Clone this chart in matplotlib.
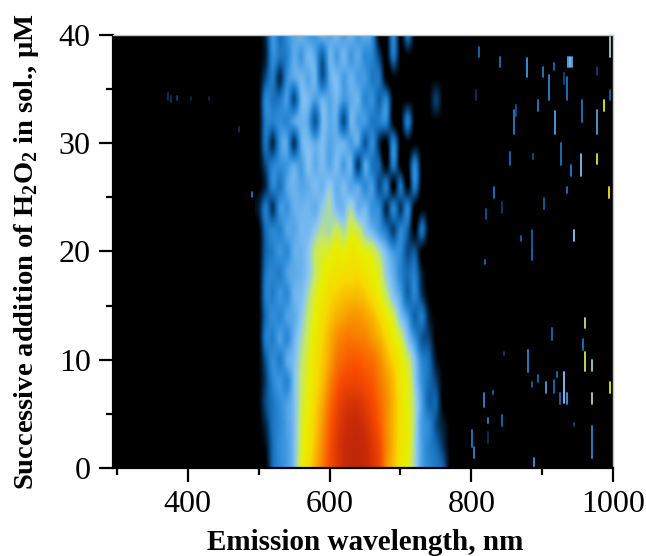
import numpy as np
import matplotlib
matplotlib.use("Agg")
import matplotlib.pyplot as plt
from matplotlib.colors import LinearSegmentedColormap

plt.rcParams['font.family'] = ['Liberation Serif', 'DejaVu Serif']
plt.rcParams['mathtext.fontset'] = 'custom'
plt.rcParams['mathtext.rm'] = 'Liberation Serif'
plt.rcParams['mathtext.bf'] = 'Liberation Serif:bold'

# intensity, 0-100, rows run top (40 uM) to bottom (0 uM)
wavelengths = [500, 510, 520, 530, 540, 550, 560, 570, 580, 590, 600, 610, 620, 630, 640,
               650, 660, 670, 680, 690, 700, 710, 720, 730, 740, 750, 760, 770, 780]
additions = [40, 38, 36, 34, 32, 30, 28, 26, 24, 22, 20, 18, 16, 14, 12, 10, 8, 6, 4, 2, 0]
c40 = [0, 8, 30, 20, 28, 33, 36, 31, 30, 36, 33, 37, 31, 36, 30, 34, 28, 0, 0, 26, 0, 22, 0, 0, 0, 0, 0, 0, 0]
c38 = [0, 6, 28, 22, 25, 34, 30, 37, 33, 18, 36, 31, 37, 30, 34, 27, 26, 12, 0, 22, 0, 0, 0, 0, 0, 0, 0, 0, 0]
c36 = [0, 14, 24, 8, 28, 33, 37, 33, 36, 16, 34, 38, 31, 36, 31, 31, 23, 22, 0, 0, 0, 0, 0, 0, 0, 0, 0, 0, 0]
c34 = [0, 26, 22, 23, 31, 14, 36, 37, 31, 36, 33, 37, 30, 34, 36, 26, 29, 18, 26, 0, 0, 0, 0, 0, 0, 12, 0, 0, 0]
c32 = [0, 24, 25, 28, 26, 33, 36, 33, 16, 37, 34, 34, 14, 36, 31, 31, 23, 24, 26, 0, 0, 24, 0, 0, 0, 0, 0, 0, 0]
c30 = [0, 22, 8, 29, 33, 10, 34, 38, 34, 38, 33, 36, 36, 31, 34, 16, 28, 8, 0, 26, 0, 0, 0, 0, 0, 0, 0, 0, 0]
c28 = [0, 14, 25, 28, 30, 34, 31, 39, 34, 38, 33, 38, 31, 36, 10, 33, 22, 18, 0, 24, 0, 0, 26, 0, 0, 0, 0, 0, 0]
c26 = [0, 8, 26, 22, 33, 36, 33, 35, 38, 36, 41, 35, 38, 33, 34, 27, 31, 14, 24, 0, 22, 0, 24, 0, 0, 0, 0, 0, 0]
c24 = [6, 24, 10, 30, 29, 35, 36, 37, 35, 41, 44, 38, 37, 44, 35, 37, 29, 27, 8, 26, 10, 26, 0, 0, 0, 0, 0, 0, 0]
c22 = [0, 20, 26, 25, 33, 33, 37, 37, 41, 45, 44, 48, 44, 50, 48, 41, 36, 30, 22, 12, 26, 18, 0, 22, 0, 0, 0, 0, 0]
c20 = [0, 18, 24, 30, 27, 35, 36, 40, 47, 50, 51, 54, 52, 56, 54, 52, 50, 44, 37, 30, 27, 14, 16, 0, 0, 0, 0, 0, 0]
c18 = [0, 22, 26, 24, 32, 34, 36, 40, 47, 52, 55, 57, 58, 58, 59, 56, 54, 50, 41, 35, 26, 20, 24, 6, 0, 0, 0, 0, 0]
c16 = [0, 24, 24, 30, 27, 36, 38, 44, 51, 55, 59, 61, 63, 64, 64, 62, 58, 53, 47, 39, 32, 18, 26, 10, 0, 0, 0, 0, 0]
c14 = [0, 20, 28, 26, 32, 34, 40, 47, 53, 58, 62, 66, 68, 70, 70, 68, 65, 60, 54, 49, 39, 31, 18, 24, 6, 0, 0, 0, 0]
c12 = [0, 24, 24, 32, 27, 36, 43, 49, 55, 60, 66, 71, 74, 75, 74, 73, 70, 66, 60, 54, 49, 39, 29, 16, 12, 0, 0, 0, 0]
c10 = [0, 16, 28, 24, 34, 38, 46, 51, 57, 62, 68, 75, 78, 80, 80, 78, 76, 72, 66, 60, 54, 48, 39, 26, 20, 4, 0, 0, 0]
c8 = [0, 12, 26, 30, 26, 38, 47, 52, 58, 64, 72, 79, 83, 84, 84, 82, 80, 75, 70, 64, 56, 52, 41, 29, 20, 12, 0, 0, 0]
c6 = [0, 14, 22, 28, 32, 38, 48, 53, 60, 67, 76, 83, 88, 90, 90, 87, 83, 78, 72, 65, 57, 52, 44, 32, 18, 18, 0, 0, 0]
c4 = [0, 8, 22, 27, 32, 38, 49, 55, 62, 70, 79, 86, 91, 94, 94, 91, 86, 80, 72, 65, 57, 53, 44, 31, 27, 14, 6, 0, 0]
c2 = [0, 3, 20, 28, 31, 38, 50, 56, 64, 72, 81, 88, 93, 96, 97, 94, 89, 83, 73, 65, 57, 53, 43, 32, 25, 20, 10, 0, 0]
c0 = [0, 0, 20, 27, 31, 38, 52, 58, 66, 74, 82, 88, 93, 96, 97, 95, 90, 84, 72, 64, 56, 52, 43, 32, 27, 23, 18, 0, 0]

# noise streaks outside the band: wavelength, low and high concentration, intensity
speck_wl = [811, 841, 879, 901, 910, 917, 936, 939, 942, 935, 931, 977, 996, 807, 996, 987, 894, 956,
            860, 918, 977, 863, 927, 955, 977, 941, 855, 887, 832, 935, 994, 903, 821, 843, 886, 945,
            870, 886, 819, 961, 914, 958, 961, 880, 971, 846, 921, 894, 885, 905, 917, 931, 935, 925,
            996, 971, 818, 831, 843, 824, 945, 801, 804, 824, 971, 889,
            472, 490, 372, 376, 385, 405, 430]
speck_lo = [38.0, 37.0, 36.1, 36.1, 34.0, 36.8, 37.0, 37.0, 37.0, 34.0, 35.5, 36.3, 38.0, 34.0, 34.0, 33.0, 33.0, 32.0,
            30.9, 30.9, 30.9, 32.5, 28.0, 27.0, 28.1, 27.0, 28.0, 28.5, 24.9, 25.4, 24.9, 23.9, 23.0, 23.6, 20.1, 21.0,
            21.0, 19.2, 18.8, 12.9, 11.8, 10.9, 9.0, 8.9, 9.0, 10.4, 8.4, 7.9, 7.5, 6.9, 6.9, 6.0, 5.9, 5.9,
            6.9, 5.9, 5.6, 6.8, 3.9, 4.2, 3.9, 1.9, 0.9, 2.3, 0.9, 0.1,
            31.0, 25.0, 34.0, 33.8, 34.0, 34.0, 34.0]
speck_hi = [38.9, 38.0, 37.9, 37.0, 36.3, 37.4, 38.0, 38.0, 38.0, 36.1, 36.5, 37.0, 39.8, 34.9, 34.9, 34.0, 34.0, 34.0,
            33.1, 33.0, 33.1, 33.5, 30.0, 29.0, 29.0, 28.0, 29.2, 29.0, 26.0, 26.0, 26.0, 24.9, 23.9, 24.6, 22.0, 22.0,
            21.4, 20.1, 19.2, 13.9, 12.9, 11.9, 10.7, 10.9, 10.0, 10.7, 8.9, 8.6, 7.9, 7.9, 8.1, 8.9, 6.9, 6.9,
            7.9, 6.9, 6.9, 7.1, 4.9, 4.6, 4.2, 3.5, 1.9, 3.3, 3.9, 0.9,
            31.5, 25.5, 34.6, 34.4, 34.4, 34.3, 34.3]
speck_val = [20, 22, 30, 24, 26, 20, 34, 40, 34, 22, 14, 12, 42, 10, 18, 52, 24, 22,
             24, 32, 32, 16, 22, 38, 48, 24, 20, 16, 22, 22, 55, 18, 16, 12, 18, 40,
             18, 20, 20, 46, 20, 22, 48, 26, 42, 12, 22, 20, 18, 32, 20, 40, 30, 20,
             52, 44, 26, 20, 20, 26, 14, 24, 26, 10, 26, 30,
             10, 22, 10, 10, 12, 8, 8]

level_pos = [0, 0.08, 0.18, 0.28, 0.40, 0.47, 0.53, 0.60, 0.70, 0.82, 0.93, 1.0]
level_col = ['#000000', '#05294a', '#0f64ac', '#2f8edb', '#8ac6f6', '#c4e86a', '#e8f000',
             '#f8d800', '#f89800', '#f84c00', '#cc2c08', '#b82408']
cmap = LinearSegmentedColormap.from_list('fluor', list(zip(level_pos, level_col)))

intensity = np.array([c40, c38, c36, c34, c32, c30, c28, c26, c24, c22, c20,
                      c18, c16, c14, c12, c10, c8, c6, c4, c2, c0])

fig = plt.figure(figsize=(6.46, 5.56), dpi=100)
ax = fig.add_axes([113 / 646, (556 - 468) / 556, 500 / 646, 433 / 556])
ax.set_facecolor('black')
ax.imshow(intensity, cmap=cmap, vmin=0, vmax=100, aspect='auto', interpolation='spline16',
          extent=[wavelengths[0] - 5, wavelengths[-1] + 5, additions[-1] - 1, additions[0] + 1])

for wl, lo, hi, val in zip(speck_wl, speck_lo, speck_hi, speck_val):
    ax.plot([wl, wl], [lo, hi], color=cmap(val / 100), lw=1.3, solid_capstyle='round')

ax.set_xlim(294.4, 1000)
ax.set_ylim(0, 40)
ax.set_xticks([400, 600, 800, 1000])
ax.set_xticks([300, 500, 700, 900], minor=True)
ax.set_yticks([0, 10, 20, 30, 40])
ax.set_yticks([5, 15, 25, 35], minor=True)
ax.tick_params(axis='both', which='major', length=10, width=1.6, labelsize=23, pad=6)
ax.tick_params(axis='both', which='minor', length=5, width=1.6)

for side in ['left', 'bottom']:
    ax.spines[side].set_linewidth(1.6)
for side in ['top', 'right']:
    ax.spines[side].set_color('#c4c4c4')
    ax.spines[side].set_linewidth(1.0)

fig.text(365 / 646, 1 - 542 / 556, 'Emission wavelength, nm', fontsize=21, fontweight='bold',
         ha='center', va='center')
fig.text(27 / 646, 1 - 252 / 556, r'Successive addition of H$_\mathbf{2}$O$_\mathbf{2}$ in sol., µM',
         fontsize=20.5, fontweight='bold', rotation=90, ha='center', va='center')

fig.savefig('out.png', dpi=100)
